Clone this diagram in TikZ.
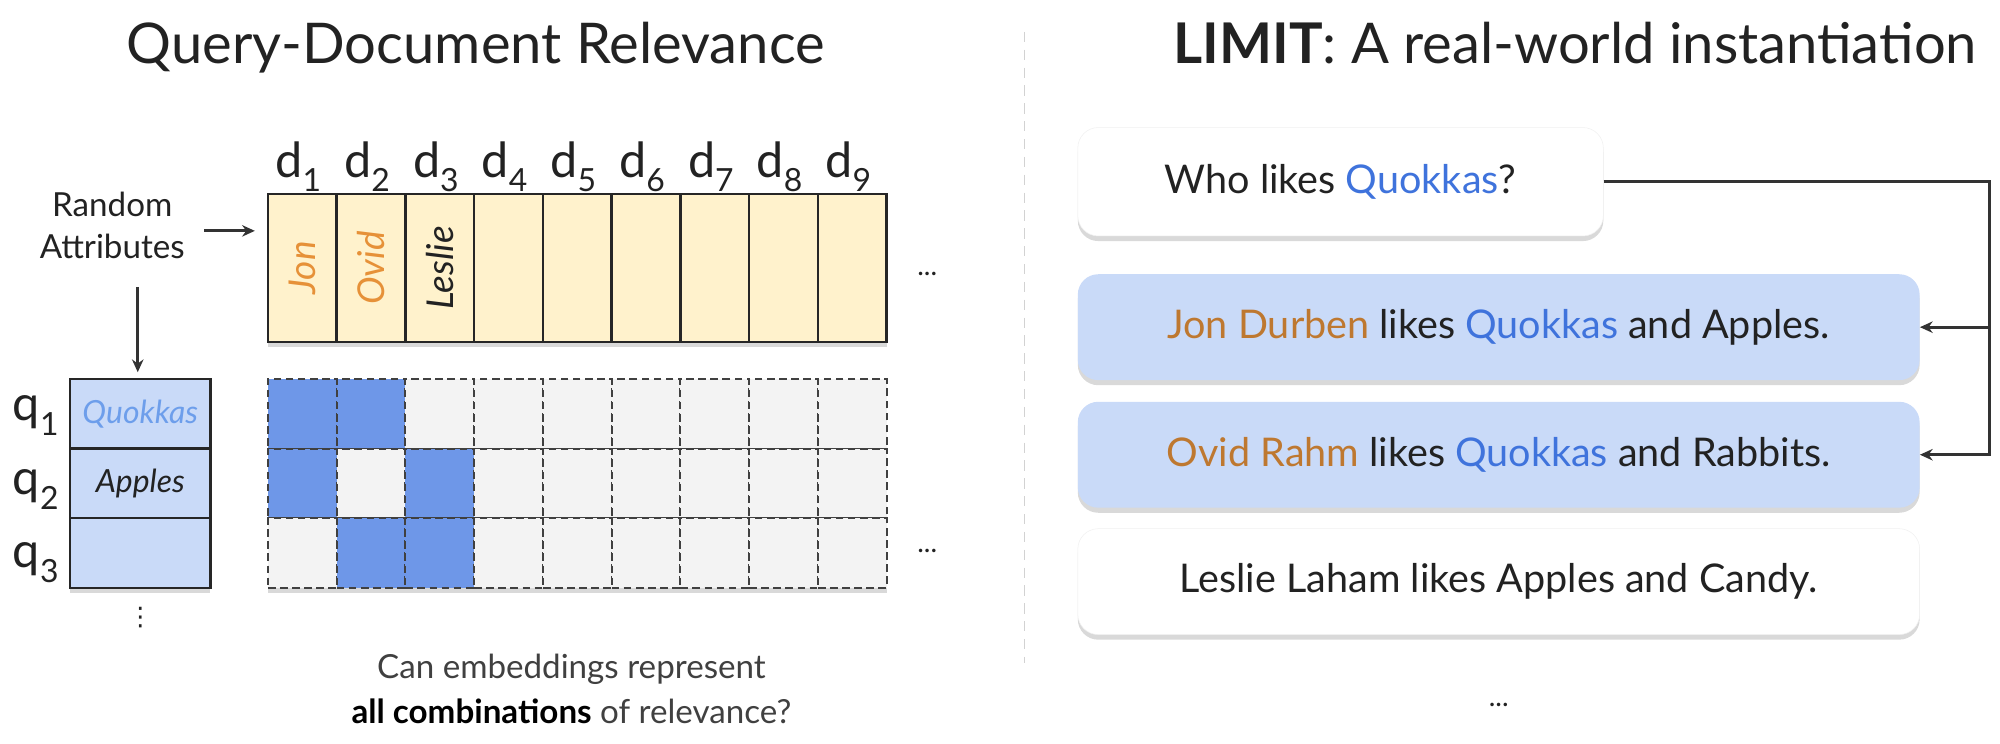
\documentclass[tikz,border=0pt]{standalone}
\usepackage{fontspec}
\setmainfont{Lato}
\newfontfamily\dejavu{DejaVu Sans}
\usetikzlibrary{shadows,arrows.meta,calc}
\definecolor{cream}{HTML}{FFF2CC}
\definecolor{lblue}{HTML}{C9DAF8}
\definecolor{mblue}{HTML}{6E97E8}
\definecolor{cellgray}{HTML}{F3F3F3}
\definecolor{qblue}{HTML}{3F73DC}
\definecolor{qblue2}{HTML}{6D9EEB}
\definecolor{orng}{HTML}{E69138}
\definecolor{orng2}{HTML}{BE7830}
\definecolor{txt}{HTML}{222222}
\newcommand\fs[2]{\fontsize{#1pt}{#2pt}\selectfont}
\newcommand\sbs[1]{\raisebox{-0.3em}{\fontsize{25pt}{25pt}\selectfont #1}}
\begin{document}
\begin{tikzpicture}[x=1pt,y=-1pt,
  doccell/.style={draw=black!85, line width=1.8pt, fill=cream, minimum width=53.9pt, minimum height=116pt, inner sep=0pt, outer sep=0pt},
  gcell/.style={draw=black!75, dash pattern=on 6pt off 3.5pt, line width=1.6pt, minimum width=53.9pt, minimum height=54.67pt, inner sep=0pt, outer sep=0pt},
  gon/.style={gcell, fill=mblue},
  goff/.style={gcell, fill=cellgray},
  qcell/.style={draw=black!85, line width=1.8pt, fill=lblue, minimum width=110pt, minimum height=54.67pt, inner sep=0pt, outer sep=0pt},
  shad/.style={drop shadow={shadow xshift=0pt, shadow yshift=-4pt, opacity=.3}},
  sent/.style={rounded corners=16pt, minimum width=660pt, minimum height=83pt, font=\fs{31}{36}, text=txt, shad, inner sep=0pt},
  lbl/.style={font=\fs{38}{40}, text=txt, anchor=base, inner sep=0pt},
  conn/.style={draw=black!80, line width=2.2pt},
  tip/.style={-{Stealth[length=10pt,width=9pt]}},
  dots/.style={font=\fs{22}{24}, text=txt, inner sep=0pt}
]
\useasboundingbox (0,0) rectangle (1568,583);

% titles
\node[anchor=base, font=\fs{44}{50}, text=txt, inner sep=0pt] (t1) at (373,50) {Query-Document Relevance};
\node[anchor=base, font=\fs{44}{50}, text=txt, inner sep=0pt] (t2) at (1235,50) {\textbf{LIMIT}: A real-world instantiation};

% divider
\draw[gray!35, line width=1pt, dash pattern=on 8pt off 6pt] (803,25) -- (803,520);

% document row
\node[fill=cream, minimum width=485.1pt, minimum height=116pt, inner sep=0pt, shad] (docrow) at (452.55,210) {};
\foreach \i in {1,...,9} {
  \node[doccell] (doc\i) at ({210+53.9*(\i-0.5)},210) {};
  \node[lbl] (dl\i) at ({210+53.9*(\i-0.5)-3},139) {d\sbs{\i}};
}
\node[rotate=90, font=\fs{29}{32}\itshape, text=orng, inner sep=0pt] (jon) at (doc1) {Jon};
\node[rotate=90, font=\fs{29}{32}\itshape, text=orng, inner sep=0pt] (ovid) at (doc2) {Ovid};
\node[rotate=90, font=\fs{29}{32}\itshape, text=txt, inner sep=0pt] (leslie) at (doc3) {Leslie};
\node[dots] (dd1) at (727,215) {...};

% random attributes
\node[align=center, font=\fs{26}{33}, text=txt, inner sep=0pt] (ra) at (88,177) {Random\\Attributes};
\coordinate (a1s) at (160,181);
\draw[conn, tip, shorten >=10pt] (a1s) -- (docrow.west |- a1s);
\coordinate (a2s) at (108,225);

% query column
\node[minimum width=110pt, minimum height=164pt, fill=lblue, inner sep=0pt, shad] (qcol) at (110,379) {};
\node[qcell] (q1) at (110,324.33) {};
\node[qcell] (q2) at (110,379) {};
\node[qcell] (q3) at (110,433.67) {};
\node[font=\fs{25}{28}\itshape, text=qblue2, inner sep=0pt] (q1t) at (q1) {Quokkas};
\node[font=\fs{25}{28}\itshape, text=txt, inner sep=0pt] (q2t) at (q2) {Apples};
\draw[conn, tip, shorten >=5pt] (a2s) -- (qcol.north -| a2s);
\node[lbl] (ql1) at (28,330) {q\sbs{1}};
\node[lbl] (ql2) at (28,388) {q\sbs{2}};
\node[lbl] (ql3) at (28,445) {q\sbs{3}};
\node[font=\dejavu\fs{20}{24}, text=txt, inner sep=0pt] (qv) at (110,484) {⋮};

% relevance grid
\node[minimum width=485.1pt, minimum height=164pt, fill=cellgray, inner sep=0pt, shad] (grid) at (452.55,379) {};
\foreach \r/\c/\s in {1/1/gon,1/2/gon,1/3/goff,1/4/goff,1/5/goff,1/6/goff,1/7/goff,1/8/goff,1/9/goff,
                      2/1/gon,2/2/goff,2/3/gon,2/4/goff,2/5/goff,2/6/goff,2/7/goff,2/8/goff,2/9/goff,
                      3/1/goff,3/2/gon,3/3/gon,3/4/goff,3/5/goff,3/6/goff,3/7/goff,3/8/goff,3/9/goff} {
  \node[\s] (g\r\c) at ({210+53.9*(\c-0.5)},{297+54.67*(\r-0.5)}) {};
}
\node[dots] (dd2) at (727,432) {...};

% caption
\node[font=\fs{26}{30}, text=black!75, inner sep=0pt] (cap1) at (448,525) {Can embeddings represent};
\node[font=\fs{26}{30}, text=black!75, inner sep=0pt] (cap2) at (448,558) {\textbf{\textcolor{black}{all combinations}} of relevance?};

% right side
\node[sent, fill=white, draw=black!6, minimum width=412pt, minimum height=85pt] (b1) at (1051,142.5) {Who likes \textcolor{qblue}{Quokkas}?};
\node[sent, fill=lblue] (b2) at (1175,256.5) {\textcolor{orng2}{Jon Durben} likes \textcolor{qblue}{Quokkas} and Apples.};
\node[sent, fill=lblue] (b3) at (1175,356.5) {\textcolor{orng2}{Ovid Rahm} likes \textcolor{qblue}{Quokkas} and Rabbits.};
\node[sent, fill=white, draw=black!6] (b4) at (1175,456) {Leslie Laham likes Apples and Candy.};
\coordinate (R) at (1560,0);
\draw[conn, tip] (b1.east) -| (R |- b3.east) -- (b3.east);
\draw[conn, tip] (R |- b2.east) -- (b2.east);
\node[dots] (dd3) at (1175,553) {...};
\end{tikzpicture}
\end{document}
